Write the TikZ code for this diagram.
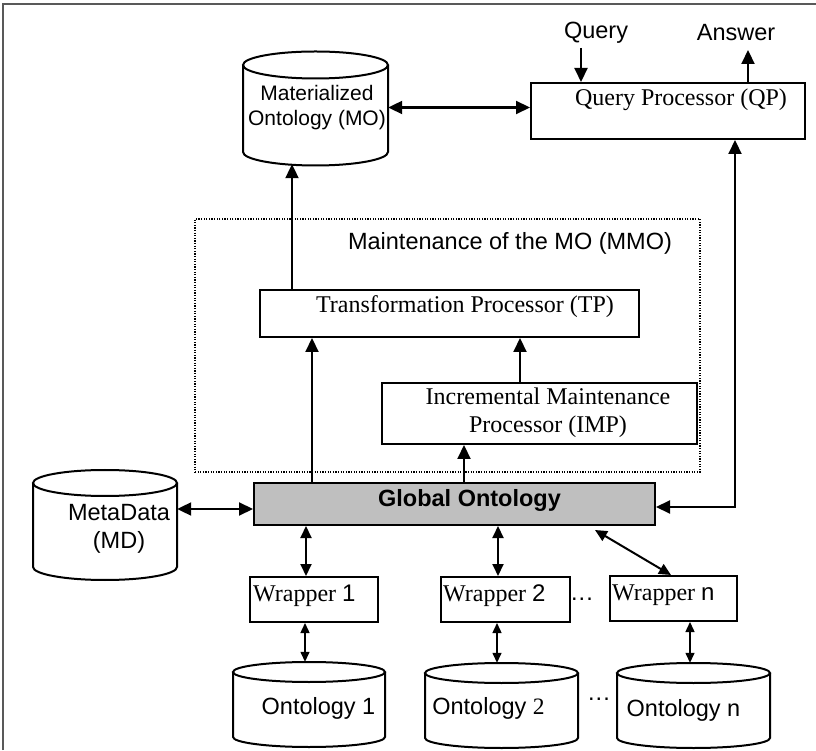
\documentclass[tikz,border=0pt]{standalone}
\usepackage{fontspec}
\setmainfont{Liberation Serif}
\setsansfont{Liberation Sans}
\usetikzlibrary{arrows.meta}

% cylinder outline: centre x, top-ellipse centre y, bottom-ellipse centre y, x radius, y radius
\newcommand\drawdrum[5]{%
  \draw[line width=2pt] (#1-#4,#2) -- (#1-#4,#3)
    arc[start angle=180,end angle=360,x radius=#4,y radius=#5] -- (#1+#4,#2);
  \draw[line width=2pt] (#1,#2) ellipse[x radius=#4,y radius=#5];
}

\begin{document}
\begin{tikzpicture}[x=1pt,y=1pt,
  box/.style={draw, line width=2pt, inner sep=0pt},
  area/.style={inner sep=0pt},
  lbl/.style={font=\fontsize{23.5}{28}\selectfont\sffamily, inner sep=0pt},
  slbl/.style={font=\fontsize{24}{28}\selectfont\rmfamily, inner sep=0pt},
  link/.style={line width=2.1pt, -{Triangle[length=14pt,width=13pt]}},
  dlink/.style={line width=2.1pt, {Triangle[length=14pt,width=13pt]}-{Triangle[length=14pt,width=13pt]}},
  mlink/.style={line width=2pt, {Triangle[length=12pt,width=11pt]}-{Triangle[length=12pt,width=11pt]}},
  tlink/.style={line width=1.4pt, {Triangle[length=10pt,width=9pt]}-{Triangle[length=10pt,width=9pt]}},
]
\useasboundingbox (0,0) rectangle (816,750);

% frame
\draw[line width=1.4pt, black!65] (3,0) -- (3,746) -- (816,746);

% ---- stores ----
\drawdrum{315.5}{685}{598}{72.5}{13.5}
\node[area, minimum width=145, minimum height=113] (mo) at (315.5,642.5) {};
\node[font=\fontsize{21}{25}\selectfont\sffamily, inner sep=0pt, align=center] (motext) at (317,642.5)
  {Materialized\\Ontology (MO)};

\drawdrum{105}{267}{183}{72}{13}
\node[area, minimum width=144, minimum height=110] (md) at (105,225) {};
\node[lbl, align=center] (mdtext) at (119,221) {MetaData\\(MD)};

\drawdrum{309}{78}{13}{76}{10}
\node[area, minimum width=152, minimum height=85] (o1) at (309,45.5) {};
\node[lbl] (o1text) at (318.5,42) {Ontology 1};

\drawdrum{501.5}{77}{12}{76.5}{10}
\node[area, minimum width=153, minimum height=85] (o2) at (501.5,44.5) {};
\node[lbl] (o2text) at (488.5,42) {Ontology \textrm{2}};

\drawdrum{693.5}{77}{12}{76.5}{10}
\node[area, minimum width=153, minimum height=85] (on) at (693.5,44.5) {};
\node[lbl] (ontext) at (683.5,40) {Ontology n};

% ---- processors ----
\node[box, minimum width=274, minimum height=56] (qp) at (668,639) {};
\node[slbl] (qptext) at (681,650) {Query Processor (QP)};

\node[draw, line width=1.2pt, dash pattern=on 1.2pt off 1.4pt, inner sep=0pt,
      minimum width=505, minimum height=253] (mmo) at (447.5,404.5) {};
\node[lbl] (mmotext) at (510,507) {Maintenance of the MO (MMO)};

\node[box, minimum width=379, minimum height=47] (tp) at (449.5,436.5) {};
\node[slbl] (tptext) at (465,443) {Transformation Processor (TP)};

\node[box, minimum width=315, minimum height=61] (imp) at (539.5,336.5) {};
\node[slbl, align=center] (imptext) at (548,337) {Incremental Maintenance\\Processor (IMP)};

\node[box, fill=black!25, minimum width=401, minimum height=42] (go) at (454.5,246) {};
\node[lbl, font=\fontsize{23.5}{28}\selectfont\sffamily\bfseries] (gotext) at (469.5,250) {Global Ontology};

% ---- wrappers ----
\node[box, minimum width=128, minimum height=45] (w1) at (314,150.5) {};
\node[slbl, anchor=base west] (w1text) at (253,149) {Wrapper \textsf{1}};
\node[box, minimum width=129, minimum height=45] (w2) at (505.5,150.5) {};
\node[slbl, anchor=base west] (w2text) at (443,149) {Wrapper \textsf{2}};
\node[box, minimum width=127, minimum height=45] (wn) at (673.5,151.5) {};
\node[slbl, anchor=base west] (wntext) at (612,150) {Wrapper \textsf{n}};

\node[lbl, anchor=base] (wdots) at (582,150) {.\kern1pt.\kern1pt.};
\node[lbl, anchor=base] (odots) at (599,50) {.\kern1pt.\kern1pt.};

% ---- query in / answer out ----
\node[lbl] (query) at (596,717) {Query};
\node[lbl] (answer) at (736,717) {Answer};
\coordinate (qin) at (581,702);
\coordinate (aout) at (748,700);
\draw[link] (qin) -- (qin |- qp.north);
\draw[link] (aout |- qp.north) -- (aout);

% ---- connectors ----
\draw[dlink] (mo.east) -- (mo.east -| qp.west);
\coordinate (bend) at (735,243);
\draw[dlink] (bend |- qp.south) -- (bend) -- (bend -| go.east);

\coordinate (c1) at (292,0);
\draw[link] (tp.north -| c1) -- (mo.south -| c1);
\coordinate (c2) at (520,0);
\draw[link] (imp.north -| c2) -- (tp.south -| c2);
\coordinate (c3) at (312,0);
\draw[link] (go.north -| c3) -- (tp.south -| c3);
\coordinate (c4) at (464,0);
\draw[link] (go.north -| c4) -- (imp.south -| c4);

\coordinate (c5) at (0,241);
\draw[dlink] (md.east |- c5) -- (go.west |- c5);

\coordinate (c6) at (306,0);
\draw[mlink] (go.south -| c6) -- (w1.north -| c6);
\coordinate (c7) at (498,0);
\draw[mlink] (go.south -| c7) -- (w2.north -| c7);
\coordinate (gn) at (595,220);
\coordinate (c8) at (671,0);
\draw[mlink] (gn) -- (wn.north -| c8);

\coordinate (c9) at (305,0);
\draw[tlink] (w1.south -| c9) -- (o1.north -| c9);
\coordinate (c10) at (497,0);
\draw[tlink] (w2.south -| c10) -- (o2.north -| c10);
\coordinate (c11) at (690,0);
\draw[tlink] (wn.south -| c11) -- (on.north -| c11);

\end{tikzpicture}
\end{document}
